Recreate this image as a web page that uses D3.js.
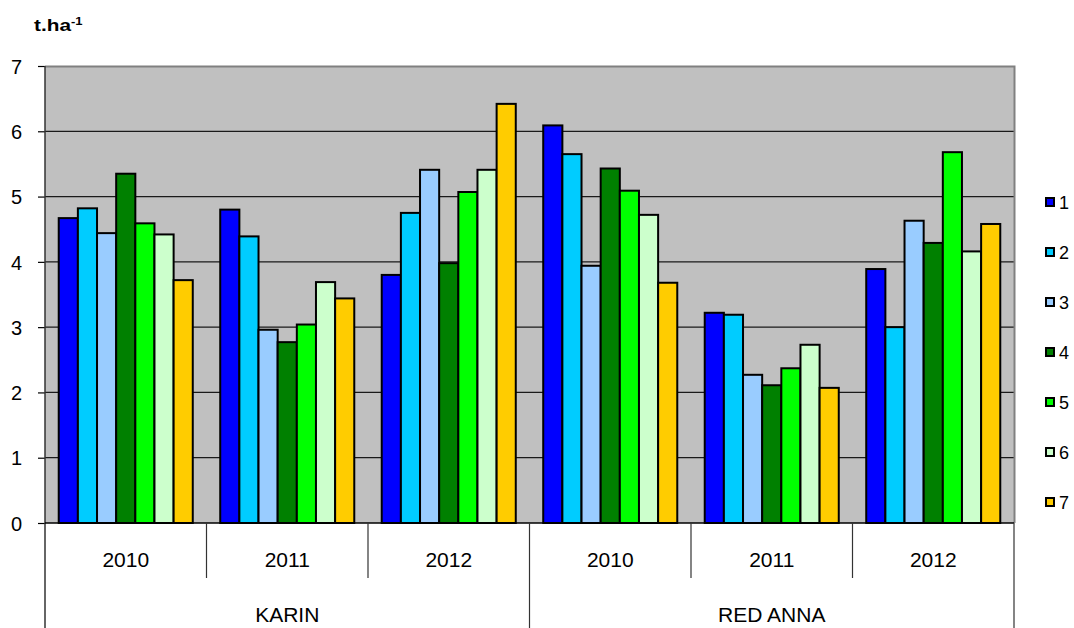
<!DOCTYPE html>
<html>
<head>
<meta charset="utf-8">
<script src="https://cdn.jsdelivr.net/npm/d3@7"></script>
<style>
  html, body { margin: 0; padding: 0; background: #fff; }
  svg { display: block; font-family: Arial, "Liberation Sans", sans-serif; }
</style>
</head>
<body>
<svg id="chart" width="1074" height="628"></svg>
<script>
// Cultivars, years and treatment series (yield, t/ha)
const cultivars = ["KARIN", "RED ANNA"];
const years = ["2010", "2011", "2012"];
const series = ["1", "2", "3", "4", "5", "6", "7"];
const seriesColors = ["#0000FF", "#00CCFF", "#99CCFF", "#008000", "#00FF00", "#CCFFCC", "#FFCC00"];
const yTicks = [0, 1, 2, 3, 4, 5, 6, 7];

// values per group, in order KARIN 2010..2012, RED ANNA 2010..2012
const s1 = [4.67, 4.80, 3.80, 6.09, 3.22, 3.89];
const s2 = [4.82, 4.39, 4.75, 5.65, 3.19, 3.00];
const s3 = [4.44, 2.96, 5.41, 3.94, 2.27, 4.63];
const s4 = [5.35, 2.77, 3.98, 5.43, 2.11, 4.29];
const s5 = [4.59, 3.04, 5.07, 5.09, 2.37, 5.68];
const s6 = [4.42, 3.69, 5.41, 4.72, 2.73, 4.16];
const s7 = [3.72, 3.44, 6.42, 3.68, 2.07, 4.58];
const seriesValues = [s1, s2, s3, s4, s5, s6, s7];

const groups = [];
cultivars.forEach(c => years.forEach(yr => groups.push({ cultivar: c, year: yr, key: c + "|" + yr })));

const svg = d3.select("#chart");
const plotL = 45, plotR = 1014, plotT = 66, plotB = 523;

const y = d3.scaleLinear().domain([0, 7]).range([plotB, plotT]);
const x0 = d3.scaleBand().domain(groups.map(g => g.key)).range([plotL, plotR]).padding(0);
const gw = x0.bandwidth();
const inner = gw * 0.83;
const x1 = d3.scaleBand().domain(series).range([(gw - inner) / 2, (gw + inner) / 2]).padding(0);

// plot background
svg.append("rect")
  .attr("x", plotL).attr("y", plotT)
  .attr("width", plotR - plotL).attr("height", plotB - plotT)
  .attr("fill", "#C0C0C0");

// gridlines
svg.append("g").selectAll("line")
  .data(yTicks.filter(t => t > 0 && t < 7))
  .join("line")
  .attr("x1", plotL).attr("x2", plotR)
  .attr("y1", d => y(d)).attr("y2", d => y(d))
  .attr("stroke", "#1a1a1a").attr("stroke-width", 1.2);

// plot border (top and right)
svg.append("path")
  .attr("d", `M${plotL},${plotT + 0.5}H${plotR + 0.5}V${plotB}`)
  .attr("fill", "none").attr("stroke", "#808080").attr("stroke-width", 2);

// bars
groups.forEach((g, gi) => {
  svg.append("g")
    .attr("transform", `translate(${x0(g.key)},0)`)
    .selectAll("rect")
    .data(series.map((s, si) => ({ s, si, v: seriesValues[si][gi] })))
    .join("rect")
    .attr("x", d => x1(d.s))
    .attr("y", d => y(d.v))
    .attr("width", x1.bandwidth())
    .attr("height", d => y(0) - y(d.v))
    .attr("fill", d => seriesColors[d.si])
    .attr("stroke", "#000").attr("stroke-width", 2);
});

// y axis
const yAxis = d3.axisLeft(y).tickValues(yTicks).tickSize(7).tickPadding(16).tickFormat(d3.format("d"));
const ya = svg.append("g").attr("transform", `translate(${plotL},0)`).call(yAxis);
ya.select(".domain").remove();
ya.selectAll(".tick line").attr("stroke", "#000").attr("stroke-width", 1.2);
ya.selectAll(".tick text").attr("font-size", 20).attr("fill", "#000")
  .attr("font-family", "Arial, 'Liberation Sans', sans-serif")
  .attr("dy", "0.36em");

// axis lines
svg.append("line").attr("x1", plotL).attr("x2", plotL).attr("y1", plotT).attr("y2", 628)
  .attr("stroke", "#333").attr("stroke-width", 1.5);
svg.append("line").attr("x1", plotL).attr("x2", plotR).attr("y1", plotB).attr("y2", plotB)
  .attr("stroke", "#000").attr("stroke-width", 1.5);

// category dividers: years and cultivars
const cuts = groups.map(g => x0(g.key)).concat([plotR]);
cuts.forEach((cx, i) => {
  if (i === 0) return;
  const outer = (i === 3 || i === 6);
  svg.append("line")
    .attr("x1", cx).attr("x2", cx)
    .attr("y1", plotB).attr("y2", outer ? 628 : 578)
    .attr("stroke", "#333").attr("stroke-width", 1.2);
});

// year labels
svg.append("g").selectAll("text")
  .data(groups)
  .join("text")
  .attr("x", d => x0(d.key) + gw / 2)
  .attr("y", 567)
  .attr("text-anchor", "middle")
  .attr("font-size", 21)
  .text(d => d.year);

// cultivar labels
svg.append("g").selectAll("text")
  .data(cultivars)
  .join("text")
  .attr("x", d => (x0(d + "|" + years[0]) + x0(d + "|" + years[2]) + gw) / 2)
  .attr("y", 622)
  .attr("text-anchor", "middle")
  .attr("font-size", 21)
  .text(d => d);

// unit label
const unit = svg.append("text")
  .attr("transform", "translate(34,31) scale(1.3,1)")
  .attr("font-size", 16).attr("font-weight", "bold");
unit.append("tspan").text("t.ha");
unit.append("tspan").attr("font-size", 10).attr("dy", -6).text("-1");

// legend
const legY = d3.scalePoint().domain(series).range([202, 502]);
const leg = svg.append("g").selectAll("g")
  .data(series)
  .join("g")
  .attr("transform", d => `translate(1046,${legY(d)})`);
leg.append("rect")
  .attr("x", 0).attr("y", -4).attr("width", 8).attr("height", 8)
  .attr("fill", (d, i) => seriesColors[i])
  .attr("stroke", "#000").attr("stroke-width", 2);
leg.append("text")
  .attr("x", 13).attr("y", 6.5)
  .attr("font-size", 18)
  .text(d => d);
</script>
</body>
</html>
